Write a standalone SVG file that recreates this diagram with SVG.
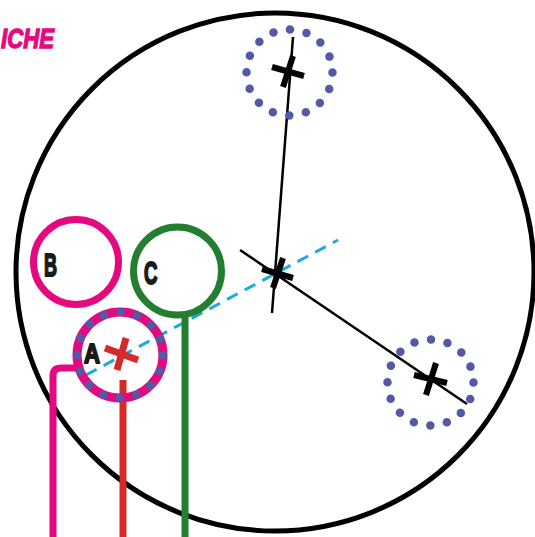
<svg xmlns="http://www.w3.org/2000/svg" width="535" height="537" viewBox="0 0 535 537">
<style>
.thin{stroke:#000;stroke-width:2.5;fill:none}
.bar{stroke:#000;stroke-width:6;fill:none}
.dots{fill:none;stroke:#5259a6;stroke-width:8.5;stroke-linecap:round;stroke-dasharray:0 16.9}
.lbl{font-family:"Liberation Sans",Arial,sans-serif;font-weight:bold;fill:#1a1a1a;stroke:#1a1a1a;stroke-width:2;stroke-linejoin:round}
.mag{stroke:#e5097f;fill:none}
</style>
<rect width="535" height="537" fill="#fff"/>
<text x="1" y="47.5" font-family="Liberation Sans, Arial, sans-serif" font-weight="bold" font-style="italic" font-size="27" fill="#e5097f" stroke="#e5097f" stroke-width="1.3" textLength="53" lengthAdjust="spacingAndGlyphs">ICHE</text>
<g id="world">
<circle cx="275" cy="272" r="259" fill="none" stroke="#000" stroke-width="5"/>
</g>
<g id="connectors">
<line x1="86" y1="375" x2="338" y2="240" stroke="#1ba9e1" stroke-width="3" stroke-dasharray="12 8"/>
<line class="thin" x1="293" y1="37" x2="272" y2="313"/>
<line class="thin" x1="240" y1="250" x2="467" y2="404"/>
<path d="M53,537 V376 Q53,368 61,368 H78" class="mag" stroke-width="7"/>
<line x1="123" y1="380" x2="123" y2="537" stroke="#d42a2a" stroke-width="7"/>
<line x1="185" y1="316" x2="185" y2="537" stroke="#237e2f" stroke-width="7"/>
</g>
<g id="top-target">
<circle class="dots" cx="289.5" cy="72.5" r="43"/>
<line class="bar" x1="272" y1="67" x2="304" y2="76"/>
<line class="bar" x1="293" y1="56" x2="283" y2="87"/>
</g>
<g id="center-target">
<line class="bar" x1="262" y1="269" x2="293" y2="278"/>
<line class="bar" x1="283" y1="258" x2="273" y2="288"/>
</g>
<g id="right-target">
<circle class="dots" cx="430.5" cy="382.5" r="43"/>
<line class="bar" x1="414" y1="375" x2="447" y2="383"/>
<line class="bar" x1="436" y1="363" x2="426" y2="395"/>
</g>
<g id="node-B">
<circle cx="76" cy="262" r="42.5" class="mag" stroke-width="7"/>
<text class="lbl" x="44" y="275.5" font-size="32" textLength="13" lengthAdjust="spacingAndGlyphs">B</text>
</g>
<g id="node-C">
<circle cx="177.5" cy="271" r="44" fill="none" stroke="#237e2f" stroke-width="7"/>
<text class="lbl" x="144" y="283.5" font-size="32" textLength="13.5" lengthAdjust="spacingAndGlyphs">C</text>
</g>
<g id="node-A">
<circle cx="120" cy="355" r="43" class="mag" stroke-width="9"/>
<circle class="dots" cx="120" cy="355" r="43"/>
<text class="lbl" x="84" y="362.5" font-size="27" textLength="16" lengthAdjust="spacingAndGlyphs">A</text>
<line x1="105" y1="348" x2="138" y2="360" stroke="#d42a2a" stroke-width="7"/>
<line x1="126" y1="338" x2="117" y2="370" stroke="#d42a2a" stroke-width="7"/>
</g>
</svg>
